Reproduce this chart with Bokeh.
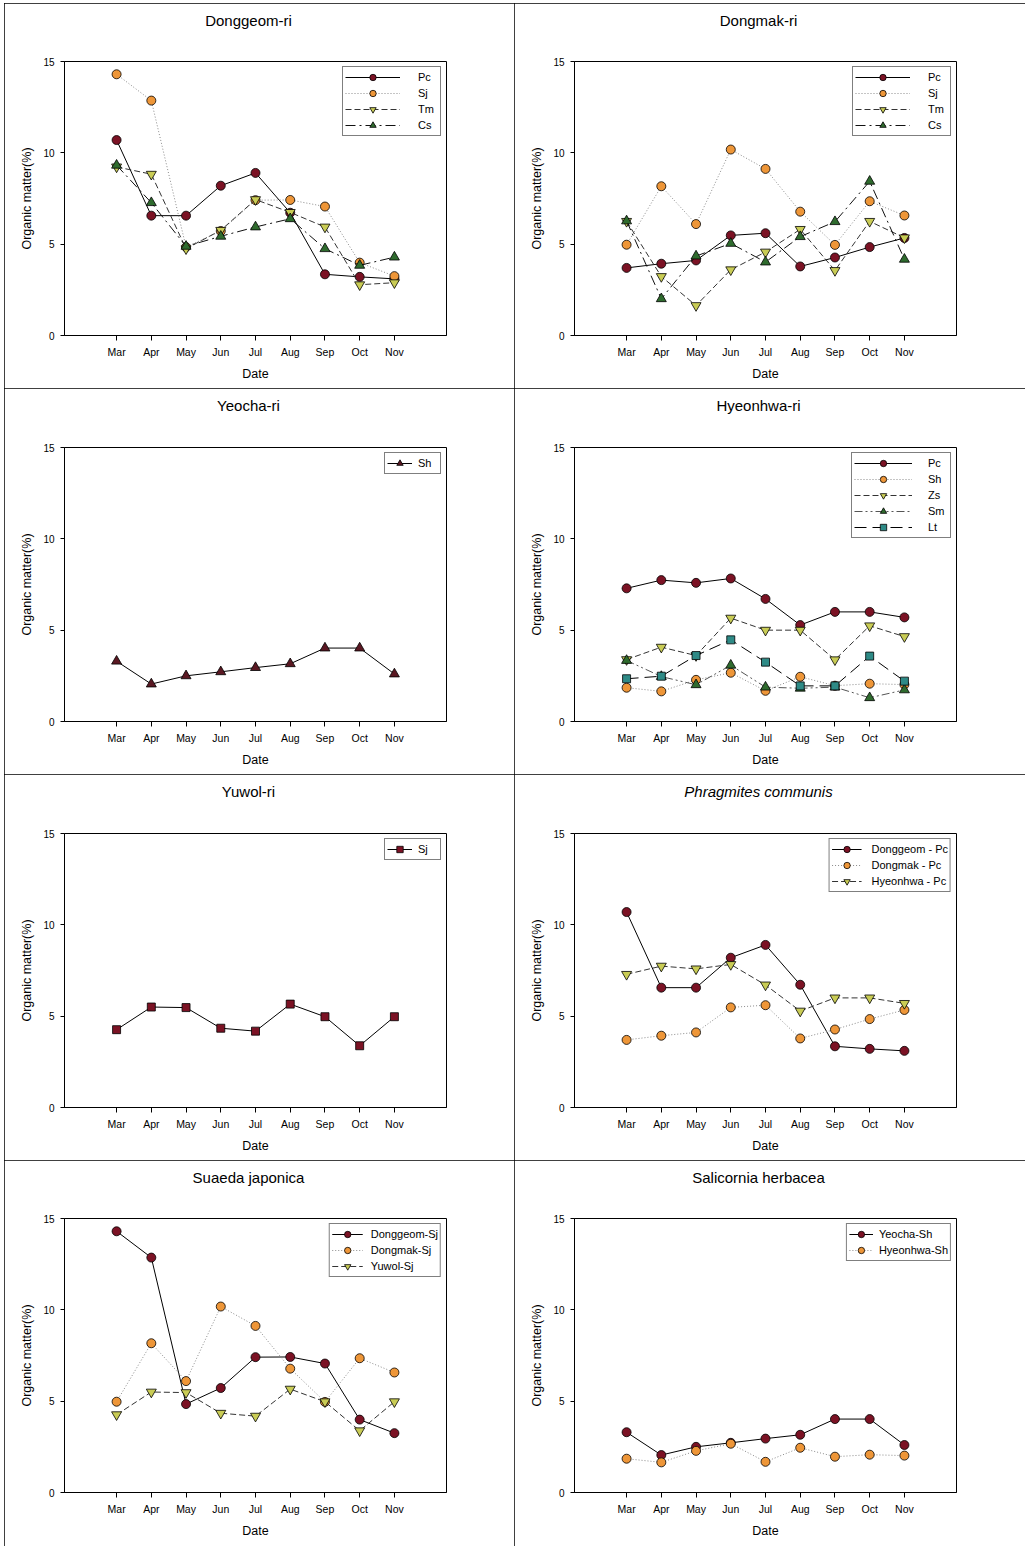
from bokeh.plotting import figure
from bokeh.layouts import column, row
from bokeh.models import FactorRange, Range1d, FixedTicker, Legend, LegendItem, Spacer
from bokeh.embed import file_html
from bokeh.resources import INLINE

# ---------------- data ----------------
months = ["Mar", "Apr", "May", "Jun", "Jul", "Aug", "Sep", "Oct", "Nov"]
y_ticks = [0, 5, 10, 15]

# Donggeom-ri
dg_pc = [10.7, 6.56, 6.56, 8.2, 8.9, 6.72, 3.35, 3.21, 3.1]
dg_sj = [14.3, 12.86, 4.84, 5.72, 7.41, 7.42, 7.06, 3.99, 3.25]
dg_tm = [9.23, 8.83, 4.75, 5.76, 7.44, 6.74, 5.94, 2.78, 2.89]
dg_cs = [9.32, 7.27, 4.88, 5.43, 5.94, 6.39, 4.75, 3.84, 4.29]

# Dongmak-ri
dm_pc = [3.7, 3.93, 4.11, 5.48, 5.6, 3.78, 4.27, 4.84, 5.34]
dm_sj = [4.97, 8.17, 6.1, 10.18, 9.12, 6.78, 4.96, 7.35, 6.57]
dm_tm = [6.25, 3.23, 1.64, 3.6, 4.57, 5.81, 3.56, 6.25, 5.35]
dm_cs = [6.27, 2.01, 4.35, 5.04, 4.02, 5.41, 6.23, 8.44, 4.17]

# Yeocha-ri
yc_sh = [3.3, 2.05, 2.5, 2.72, 2.95, 3.16, 4.02, 4.02, 2.6]

# Hyeonhwa-ri
hh_pc = [7.29, 7.74, 7.59, 7.83, 6.71, 5.28, 6.0, 6.0, 5.7]
hh_sh = [1.85, 1.65, 2.28, 2.67, 1.68, 2.45, 1.96, 2.07, 2.02]
hh_zs = [3.39, 4.07, 3.61, 5.66, 5.0, 5.0, 3.38, 5.24, 4.65]
hh_sm = [3.34, 2.46, 2.01, 3.08, 1.88, 1.82, 1.88, 1.3, 1.73]
hh_lt = [2.34, 2.48, 3.61, 4.47, 3.25, 1.95, 1.95, 3.58, 2.21]

# Yuwol-ri
yw_sj = [4.26, 5.5, 5.47, 4.34, 4.18, 5.66, 4.97, 3.38, 4.97]

# ---------------- styles ----------------
FONT = "Liberation Sans"
ST = {
    "solid_circle": dict(marker="circle", fill="#7B1224", size=9, dash="solid", color="#000000"),
    "dot_circle": dict(marker="circle", fill="#EE9638", size=9, dash="1 2", color="#8a8a8a"),
    "dash_tri": dict(marker="inverted_triangle", fill="#C9CC55", size=10, dash="6 3", color="#333333"),
    "dashdot_tri": dict(marker="triangle", fill="#2F6B2E", size=10, dash="10 4 2 4", color="#111111"),
    "dashdotdot_tri": dict(marker="triangle", fill="#2F6B2E", size=10, dash="8 3 2 3 2 3", color="#555555"),
    "longdash_sq": dict(marker="square", fill="#2E8A86", size=8, dash="12 6", color="#000000"),
    "solid_tri": dict(marker="triangle", fill="#5A1822", size=10, dash="solid", color="#000000"),
    "solid_sq": dict(marker="square", fill="#7B1224", size=8, dash="solid", color="#000000"),
}

FRAME_W, FRAME_H = 382, 274


def make_panel(title, series, width, height, top, glyph_w, standoff, italic=False):
    bottom = height - top - FRAME_H
    right = width - 60 - FRAME_W
    p = figure(width=width, height=height, output_backend="svg", toolbar_location=None,
               x_range=FactorRange(factors=months, range_padding=1.0,
                                   range_padding_units="absolute"),
               y_range=Range1d(0, 15),
               min_border_left=60, min_border_right=right,
               min_border_top=top, min_border_bottom=bottom)

    p.title.text = title
    p.title.align = "center"
    p.title.standoff = 0
    p.title.padding = dict(left=0, right=14, top=0, bottom=top - 25)
    p.title.text_font = FONT
    p.title.text_font_size = "15px"
    p.title.text_font_style = "italic" if italic else "normal"
    p.title.text_color = "#000000"

    p.xgrid.visible = False
    p.ygrid.visible = False
    p.outline_line_color = "#000000"
    p.outline_line_width = 1
    p.outline_line_alpha = 1
    p.background_fill_color = "white"
    p.border_fill_color = "white"

    for ax in (p.xaxis[0], p.yaxis[0]):
        ax.axis_line_color = "#000000"
        ax.major_tick_line_color = "#000000"
        ax.minor_tick_line_color = None
        ax.major_tick_in = 0
        ax.major_label_text_font = FONT
        ax.major_label_text_color = "#000000"
        ax.axis_label_text_font = FONT
        ax.axis_label_text_font_style = "normal"
        ax.axis_label_text_color = "#000000"
        ax.axis_label_text_font_size = "12.5px"

    xa = p.xaxis[0]
    xa.axis_label = "Date"
    xa.major_tick_out = 5
    xa.major_label_standoff = 5
    xa.axis_label_standoff = 6
    xa.major_label_text_font_size = "10.5px"

    ya = p.yaxis[0]
    ya.axis_label = "Organic matter(%)"
    ya.ticker = FixedTicker(ticks=y_ticks)
    ya.major_tick_out = 4
    ya.major_label_standoff = 6
    ya.axis_label_standoff = 6
    ya.major_label_text_font_size = "10px"

    items = []
    for label, vals, key in series:
        s = ST[key]
        ln = p.line(x=months, y=vals, line_color=s["color"], line_width=1, line_dash=s["dash"])
        mk = p.scatter(x=months, y=vals, marker=s["marker"], size=s["size"],
                       fill_color=s["fill"], line_color="#000000", line_width=0.8)
        items.append(LegendItem(label=label, renderers=[ln, mk]))

    leg = Legend(items=items, location="top_right")
    leg.margin = 5
    leg.padding = 2
    leg.spacing = 0
    leg.glyph_width = glyph_w
    leg.glyph_height = 16
    leg.label_height = 13
    leg.label_standoff = standoff
    leg.label_text_font = FONT
    leg.label_text_font_size = "11px"
    leg.label_text_color = "#000000"
    leg.border_line_color = "#000000"
    leg.border_line_width = 1.2
    leg.background_fill_color = "white"
    leg.background_fill_alpha = 1
    p.add_layout(leg)

    p.styles = {"outline": "1px solid #000000", "outline-offset": "-1px"}
    return p


W_L, W_R = 510, 511
p1 = make_panel("Donggeom-ri", [("Pc", dg_pc, "solid_circle"), ("Sj", dg_sj, "dot_circle"),
                                ("Tm", dg_tm, "dash_tri"), ("Cs", dg_cs, "dashdot_tri")],
                W_L, 385, 58, 55, 18)
p2 = make_panel("Dongmak-ri", [("Pc", dm_pc, "solid_circle"), ("Sj", dm_sj, "dot_circle"),
                               ("Tm", dm_tm, "dash_tri"), ("Cs", dm_cs, "dashdot_tri")],
                W_R, 385, 58, 55, 18)
p3 = make_panel("Yeocha-ri", [("Sh", yc_sh, "solid_tri")], W_L, 386, 59, 25, 6)
p4 = make_panel("Hyeonhwa-ri", [("Pc", hh_pc, "solid_circle"), ("Sh", hh_sh, "dot_circle"),
                                ("Zs", hh_zs, "dash_tri"), ("Sm", hh_sm, "dashdotdot_tri"),
                                ("Lt", hh_lt, "longdash_sq")],
                W_R, 386, 59, 58, 16)
p5 = make_panel("Yuwol-ri", [("Sj", yw_sj, "solid_sq")], W_L, 386, 59, 25, 6)
p6 = make_panel("Phragmites communis", [("Donggeom - Pc", dg_pc, "solid_circle"),
                                        ("Dongmak - Pc", dm_pc, "dot_circle"),
                                        ("Hyeonhwa - Pc", hh_pc, "dash_tri")],
                W_R, 386, 59, 30, 10, italic=True)
p7 = make_panel("Suaeda japonica", [("Donggeom-Sj", dg_sj, "solid_circle"),
                                    ("Dongmak-Sj", dm_sj, "dot_circle"),
                                    ("Yuwol-Sj", yw_sj, "dash_tri")],
                W_L, 386, 58, 31, 8)
p8 = make_panel("Salicornia herbacea", [("Yeocha-Sh", yc_sh, "solid_circle"),
                                        ("Hyeonhwa-Sh", hh_sh, "dot_circle")],
                W_R, 386, 58, 24, 6)

grid = column(row(p1, p2, spacing=0), row(p3, p4, spacing=0),
              row(p5, p6, spacing=0), row(p7, p8, spacing=0), spacing=0)
layout = column(Spacer(height=3, width=10), row(Spacer(width=4, height=10), grid, spacing=0), spacing=0)

open("out.html", "w").write(file_html(layout, INLINE))
